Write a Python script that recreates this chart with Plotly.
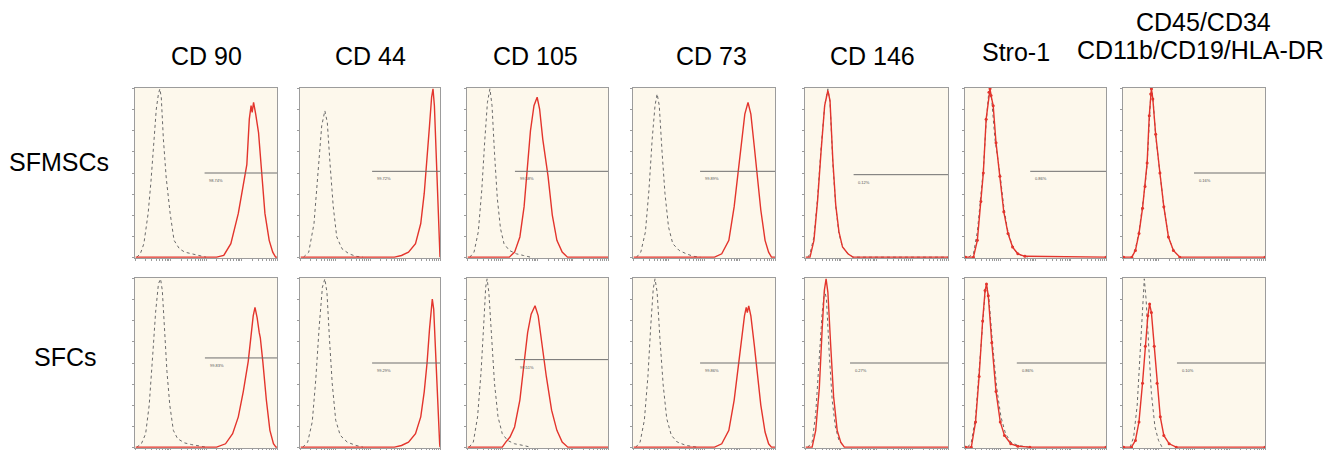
import plotly.graph_objects as go

# ---------------- data (x = log10 fluorescence, y = relative count) ----------------
markers = ["CD 90", "CD 44", "CD 105", "CD 73", "CD 146", "Stro-1", "CD45/CD34", "CD11b/CD19/HLA-DR"]
cell_types = ["SFMSCs", "SFCs"]

gate_pct_sfmsc = ["98.74%", "99.72%", "99.58%", "99.89%", "0.12%", "0.86%", "0.16%"]
gate_pct_sfc = ["99.83%", "99.29%", "99.51%", "99.86%", "0.27%", "0.86%", "0.10%"]
gate_start_sfmsc = [1.96, 2.06, 1.36, 1.89, 1.36, 1.85, 2.0]
gate_start_sfc = [1.97, 2.06, 1.36, 1.89, 1.26, 1.47, 1.52]
gate_level_sfmsc = [0.50, 0.51, 0.51, 0.51, 0.49, 0.51, 0.50]
gate_level_sfc = [0.53, 0.50, 0.52, 0.50, 0.50, 0.50, 0.50]

# isotype control (grey dotted) and stained sample (red) histograms
cd90_sfmsc_ctrl = [(0.05,0),(0.15,0.02),(0.25,0.08),(0.37,0.26),(0.45,0.45),(0.52,0.65),(0.6,0.88),(0.66,0.97),(0.70,1.0),(0.74,0.95),(0.80,0.7),(0.88,0.47),(0.99,0.26),(1.1,0.1),(1.25,0.05),(1.4,0.03),(1.6,0.02),(1.8,0.01),(2.0,0)]
cd90_sfmsc_stain = [(0.02,0),(2.3,0),(2.5,0.01),(2.7,0.08),(2.91,0.26),(3.05,0.42),(3.15,0.55),(3.22,0.82),(3.27,0.9),(3.3,0.86),(3.34,0.92),(3.4,0.85),(3.48,0.74),(3.57,0.5),(3.66,0.26),(3.78,0.1),(3.88,0.03),(3.96,0),(4.0,0)]
cd90_sfc_ctrl = [(0.05,0),(0.18,0.02),(0.3,0.08),(0.4,0.25),(0.5,0.55),(0.58,0.8),(0.66,0.97),(0.72,1.0),(0.77,0.93),(0.83,0.7),(0.9,0.45),(0.98,0.25),(1.08,0.1),(1.2,0.05),(1.4,0.025),(1.6,0.015),(1.85,0.005),(2.0,0)]
cd90_sfc_stain = [(0.02,0),(2.3,0),(2.55,0.02),(2.75,0.08),(2.91,0.18),(3.05,0.33),(3.19,0.51),(3.27,0.69),(3.3,0.74),(3.33,0.78),(3.38,0.83),(3.44,0.77),(3.5,0.68),(3.53,0.65),(3.6,0.51),(3.7,0.28),(3.8,0.1),(3.9,0.02),(3.97,0),(4.0,0)]

cd44_sfmsc_ctrl = [(0.1,0),(0.25,0.03),(0.4,0.2),(0.52,0.5),(0.62,0.78),(0.71,0.87),(0.78,0.8),(0.86,0.55),(0.95,0.3),(1.05,0.12),(1.2,0.05),(1.4,0.02),(1.6,0.005),(1.8,0)]
cd44_sfmsc_stain = [(0.02,0),(2.7,0),(2.9,0.01),(3.1,0.03),(3.3,0.08),(3.45,0.2),(3.55,0.38),(3.62,0.55),(3.7,0.78),(3.76,0.95),(3.8,1.0),(3.84,0.9),(3.9,0.55),(3.95,0.2),(3.99,0.02),(4.0,0)]
cd44_sfc_ctrl = [(0.08,0),(0.22,0.03),(0.35,0.15),(0.45,0.4),(0.55,0.72),(0.64,0.95),(0.71,1.0),(0.77,0.92),(0.84,0.65),(0.92,0.38),(1.02,0.16),(1.15,0.07),(1.35,0.03),(1.6,0.01),(1.8,0)]
cd44_sfc_stain = [(0.02,0),(2.7,0),(2.9,0.01),(3.1,0.03),(3.3,0.08),(3.45,0.18),(3.55,0.33),(3.63,0.5),(3.7,0.7),(3.75,0.85),(3.78,0.88),(3.82,0.82),(3.88,0.5),(3.94,0.18),(3.99,0.02),(4.0,0)]

cd105_sfmsc_ctrl = [(0.08,0),(0.2,0.03),(0.32,0.15),(0.42,0.4),(0.5,0.68),(0.58,0.92),(0.65,1.0),(0.71,0.9),(0.78,0.62),(0.86,0.35),(0.95,0.17),(1.05,0.08),(1.2,0.04),(1.4,0.02),(1.6,0.01),(1.8,0)]
cd105_sfmsc_stain = [(0.02,0),(1.2,0),(1.35,0.03),(1.5,0.12),(1.62,0.3),(1.7,0.5),(1.8,0.75),(1.9,0.9),(1.99,0.95),(2.06,0.88),(2.15,0.7),(2.3,0.48),(2.42,0.25),(2.55,0.1),(2.7,0.03),(2.85,0),(4.0,0)]
cd105_sfc_ctrl = [(0.06,0),(0.18,0.03),(0.3,0.18),(0.4,0.45),(0.48,0.75),(0.53,0.95),(0.57,1.0),(0.62,0.92),(0.7,0.65),(0.78,0.38),(0.88,0.18),(1.0,0.08),(1.15,0.04),(1.35,0.02),(1.6,0.01),(1.8,0)]
cd105_sfc_stain = [(0.02,0),(1.0,0),(1.1,0.03),(1.22,0.06),(1.35,0.12),(1.5,0.28),(1.62,0.5),(1.72,0.68),(1.82,0.79),(1.93,0.84),(2.02,0.78),(2.12,0.62),(2.25,0.42),(2.4,0.22),(2.55,0.1),(2.7,0.03),(2.86,0),(4.0,0)]

cd73_sfmsc_ctrl = [(0.1,0),(0.22,0.03),(0.35,0.15),(0.45,0.4),(0.54,0.7),(0.62,0.9),(0.68,0.97),(0.74,0.9),(0.82,0.62),(0.9,0.38),(1.0,0.18),(1.12,0.08),(1.3,0.04),(1.5,0.02),(1.7,0.005),(1.9,0)]
cd73_sfmsc_stain = [(0.02,0),(2.3,0),(2.5,0.02),(2.7,0.1),(2.85,0.3),(2.96,0.5),(3.06,0.7),(3.15,0.85),(3.24,0.92),(3.32,0.85),(3.42,0.65),(3.49,0.5),(3.6,0.28),(3.72,0.1),(3.82,0.03),(3.9,0),(4.0,0)]
cd73_sfc_ctrl = [(0.08,0),(0.2,0.03),(0.32,0.16),(0.42,0.42),(0.5,0.72),(0.57,0.94),(0.62,1.0),(0.68,0.92),(0.76,0.64),(0.85,0.37),(0.95,0.17),(1.08,0.07),(1.25,0.03),(1.5,0.01),(1.8,0)]
cd73_sfc_stain = [(0.02,0),(2.3,0),(2.5,0.02),(2.7,0.1),(2.85,0.28),(2.96,0.48),(3.06,0.65),(3.14,0.78),(3.19,0.83),(3.22,0.8),(3.26,0.84),(3.32,0.78),(3.42,0.6),(3.5,0.45),(3.6,0.25),(3.72,0.09),(3.82,0.02),(3.9,0),(4.0,0)]

cd146_sfmsc_ctrl = [(0.08,0),(0.14,0.02),(0.25,0.12),(0.35,0.35),(0.45,0.65),(0.55,0.9),(0.64,1.0),(0.7,0.92),(0.78,0.55),(0.86,0.3),(0.95,0.14),(1.05,0.06),(1.2,0.02),(1.34,0),(4.0,0)]
cd146_sfmsc_stain = [(0.02,0),(0.14,0),(0.25,0.1),(0.35,0.33),(0.45,0.63),(0.55,0.9),(0.64,0.99),(0.7,0.93),(0.78,0.57),(0.86,0.31),(0.95,0.15),(1.05,0.06),(1.2,0.02),(1.34,0),(4.0,0)]
cd146_sfc_ctrl = [(0.08,0),(0.2,0.03),(0.3,0.2),(0.4,0.5),(0.48,0.8),(0.55,0.93),(0.6,0.88),(0.68,0.55),(0.76,0.28),(0.85,0.12),(0.95,0.04),(1.1,0)]
cd146_sfc_stain = [(0.02,0),(0.2,0),(0.3,0.1),(0.4,0.35),(0.48,0.7),(0.54,0.93),(0.59,1.0),(0.64,0.92),(0.72,0.6),(0.8,0.3),(0.9,0.1),(1.0,0.03),(1.1,0),(4.0,0)]

stro1_sfmsc_ctrl = [(0.1,0),(0.24,0.02),(0.35,0.15),(0.45,0.38),(0.52,0.52),(0.6,0.8),(0.67,0.97),(0.71,1.0),(0.76,0.93),(0.85,0.7),(0.99,0.5),(1.1,0.3),(1.2,0.17),(1.32,0.08),(1.45,0.03),(1.6,0.01),(1.8,0)]
stro1_sfmsc_stain = [(0.02,0),(0.24,0),(0.35,0.1),(0.45,0.33),(0.52,0.5),(0.6,0.82),(0.68,0.98),(0.71,1.0),(0.74,0.96),(0.8,0.9),(0.88,0.68),(0.99,0.48),(1.1,0.27),(1.22,0.14),(1.35,0.06),(1.5,0.02),(1.7,0.005),(4.0,0)]
stro1_sfc_ctrl = [(0.08,0),(0.18,0.03),(0.3,0.18),(0.4,0.45),(0.5,0.75),(0.57,0.92),(0.62,0.95),(0.68,0.88),(0.78,0.62),(0.9,0.35),(1.02,0.18),(1.15,0.08),(1.3,0.03),(1.5,0.01),(1.8,0)]
stro1_sfc_stain = [(0.02,0),(0.18,0),(0.3,0.15),(0.4,0.42),(0.5,0.75),(0.57,0.93),(0.61,0.97),(0.66,0.9),(0.76,0.62),(0.88,0.33),(1.0,0.15),(1.12,0.07),(1.3,0.02),(1.5,0.005),(1.84,0),(4.0,0)]

lin_sfmsc_ctrl = [(0.25,0),(0.35,0.05),(0.45,0.15),(0.55,0.3),(0.62,0.42),(0.68,0.55),(0.74,0.82),(0.78,0.96),(0.81,1.0),(0.85,0.93),(0.92,0.72),(1.04,0.5),(1.15,0.3),(1.28,0.12),(1.42,0.04),(1.6,0)]
lin_sfmsc_stain = [(0.02,0),(0.25,0),(0.35,0.04),(0.45,0.14),(0.55,0.29),(0.62,0.42),(0.68,0.56),(0.74,0.84),(0.78,0.97),(0.8,1.0),(0.84,0.94),(0.92,0.73),(1.04,0.5),(1.15,0.3),(1.28,0.12),(1.42,0.04),(1.6,0),(4.0,0)]
lin_sfc_ctrl = [(0.2,0),(0.3,0.06),(0.4,0.25),(0.48,0.55),(0.55,0.85),(0.6,1.0),(0.65,0.88),(0.72,0.6),(0.8,0.32),(0.9,0.12),(1.0,0.04),(1.1,0)]
lin_sfc_stain = [(0.02,0),(0.24,0),(0.35,0.04),(0.45,0.15),(0.55,0.38),(0.63,0.6),(0.7,0.78),(0.75,0.85),(0.8,0.8),(0.88,0.6),(0.96,0.38),(1.05,0.18),(1.15,0.07),(1.3,0.02),(1.5,0),(4.0,0)]

sfmsc_curves = [(cd90_sfmsc_ctrl, cd90_sfmsc_stain), (cd44_sfmsc_ctrl, cd44_sfmsc_stain),
                (cd105_sfmsc_ctrl, cd105_sfmsc_stain), (cd73_sfmsc_ctrl, cd73_sfmsc_stain),
                (cd146_sfmsc_ctrl, cd146_sfmsc_stain), (stro1_sfmsc_ctrl, stro1_sfmsc_stain),
                (lin_sfmsc_ctrl, lin_sfmsc_stain)]
sfc_curves = [(cd90_sfc_ctrl, cd90_sfc_stain), (cd44_sfc_ctrl, cd44_sfc_stain),
              (cd105_sfc_ctrl, cd105_sfc_stain), (cd73_sfc_ctrl, cd73_sfc_stain),
              (cd146_sfc_ctrl, cd146_sfc_stain), (stro1_sfc_ctrl, stro1_sfc_stain),
              (lin_sfc_ctrl, lin_sfc_stain)]

# ---------------- layout geometry (page pixels) ----------------
OFF = 8                      # default page body margin
W, H = 1335 - OFF, 450 - OFF  # figure size so it ends at the window edge
col_px = [(135, 277), (300, 440), (467, 608), (633, 775), (805, 948), (965, 1106), (1123, 1265)]
row_px = [(88, 258), (278, 448)]
title_x = [206, 370, 535, 711, 872, 1016, 1203, 1200]
title_y = [56, 56, 56, 56, 56, 52, 22, 50]


def px_x(v):
    return (v - OFF) / W


def px_y(v):
    return 1 - (v - OFF) / H


FRAME = "#9c9c9c"
BG = "#FDF8EC"
RED = "#E3342C"
GREY = "#6a6a6a"

fig = go.Figure()
layout = dict(width=W, height=H, margin=dict(l=0, r=0, t=0, b=0),
              paper_bgcolor="white", plot_bgcolor=BG, showlegend=False,
              font=dict(family="Liberation Sans, Arial, sans-serif"))

minor_ticks = [m * 10 ** d for d in range(4) for m in range(1, 10)] + [10000]

annotations = []
k = 0
for r, (curves, pcts, gstarts, glevels) in enumerate([
        (sfmsc_curves, gate_pct_sfmsc, gate_start_sfmsc, gate_level_sfmsc),
        (sfc_curves, gate_pct_sfc, gate_start_sfc, gate_level_sfc)]):
    for c in range(7):
        k += 1
        xn = "x" if k == 1 else f"x{k}"
        yn = "y" if k == 1 else f"y{k}"
        xk = "xaxis" if k == 1 else f"xaxis{k}"
        yk = "yaxis" if k == 1 else f"yaxis{k}"
        x0, x1 = col_px[c]
        y0, y1 = row_px[r]
        layout[xk] = dict(domain=[px_x(x0), min(px_x(x1), 1)], type="log", range=[0, 4], anchor=yn,
                          showgrid=False, zeroline=False, showline=True, linecolor=FRAME,
                          linewidth=1, mirror=True, ticks="outside", ticklen=2,
                          tickcolor=FRAME, tickvals=minor_ticks, showticklabels=False)
        layout[yk] = dict(domain=[max(px_y(y1), 0), px_y(y0)], range=[-0.005, 1.005], anchor=xn,
                          showgrid=False, zeroline=False, showline=True, linecolor=FRAME,
                          linewidth=1, mirror=True, ticks="outside", ticklen=2,
                          tickcolor=FRAME, dtick=0.125, showticklabels=False)
        ctrl, stain = curves[c]
        fig.add_trace(go.Scatter(x=[10 ** p[0] for p in ctrl], y=[p[1] for p in ctrl],
                                 xaxis=xn, yaxis=yn, mode="lines",
                                 line=dict(color=GREY, width=1, dash="dot"), hoverinfo="skip"))
        use_markers = c >= 5
        fig.add_trace(go.Scatter(x=[10 ** p[0] for p in stain], y=[p[1] for p in stain],
                                 xaxis=xn, yaxis=yn,
                                 mode="lines+markers" if use_markers else "lines",
                                 marker=dict(size=3, color=RED),
                                 line=dict(color=RED, width=1.4), hoverinfo="skip"))
        # gate marker line
        fig.add_trace(go.Scatter(x=[10 ** gstarts[c], 10 ** 4], y=[glevels[c], glevels[c]],
                                 xaxis=xn, yaxis=yn, mode="lines",
                                 line=dict(color="#6e6e6e", width=1), hoverinfo="skip"))
        annotations.append(dict(x=gstarts[c] + 0.08, y=glevels[c] - 0.045, xref=xn, yref=yn,
                                text=pcts[c], showarrow=False, xanchor="left", yanchor="middle",
                                font=dict(size=4, color="#555555")))

for c in range(len(markers)):
    annotations.append(dict(x=px_x(title_x[c]), y=px_y(title_y[c]), xref="paper", yref="paper",
                            text=markers[c], showarrow=False, xanchor="center", yanchor="middle",
                            font=dict(size=25, color="black")))
row_label_y = [162, 357]
row_label_x = [59, 65]
for r in range(2):
    annotations.append(dict(x=px_x(row_label_x[r]), y=px_y(row_label_y[r]), xref="paper",
                            yref="paper", text=cell_types[r], showarrow=False,
                            xanchor="center", yanchor="middle",
                            font=dict(size=25, color="black")))

layout["annotations"] = annotations
fig.update_layout(**layout)
fig.write_html("out.html")
